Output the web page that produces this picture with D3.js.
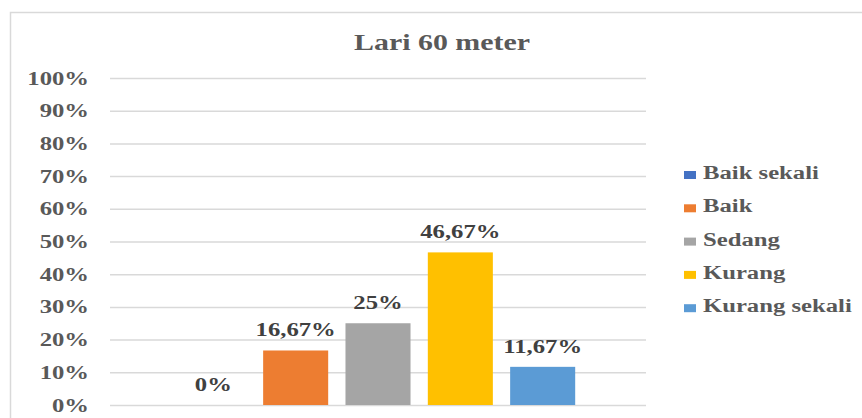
<!DOCTYPE html>
<html>
<head>
<meta charset="utf-8">
<script src="https://cdn.jsdelivr.net/npm/d3@7"></script>
<style>
  body { margin: 0; background: #fff; }
  text { font-family: 'Liberation Serif', 'Times New Roman', serif; font-weight: bold; }
</style>
</head>
<body>
<div id="chart"></div>
<script>
var chartTitle = 'Lari 60 meter'
var seriesNames = ['Baik sekali', 'Baik', 'Sedang', 'Kurang', 'Kurang sekali']
var seriesValues = [0, 16.67, 25, 46.67, 11.67]
var valueLabels = ['0%', '16,67%', '25%', '46,67%', '11,67%']
var seriesColors = ['#4472C4', '#ED7D31', '#A5A5A5', '#FFC000', '#5B9BD5']
var yTicks = [0, 10, 20, 30, 40, 50, 60, 70, 80, 90, 100]

var width = 862
var height = 418
var plotLeft = 110
var plotRight = 646
var plotTop = 78
var plotBottom = 405
var stretch = 1.3

var svg = d3.select('#chart').append('svg')
  .attr('width', width)
  .attr('height', height)

// chart frame
svg.append('rect')
  .attr('x', 10.5)
  .attr('y', 12.5)
  .attr('width', 900)
  .attr('height', 450)
  .attr('fill', 'none')
  .attr('stroke', '#d9d9d9')
  .attr('stroke-width', 1.5)

var x = d3.scaleBand()
  .domain(seriesNames)
  .range([plotLeft, plotRight])
  .paddingInner(0.21)
  .paddingOuter(0.86)

var y = d3.scaleLinear()
  .domain([0, 100])
  .range([plotBottom, plotTop])

// text is drawn horizontally stretched, like the source picture
function place (sel, px, py) {
  return sel.attr('transform', 'translate(' + px + ',' + py + ') scale(' + stretch + ',1)')
}

// gridlines
var yAxis = d3.axisLeft(y)
  .tickValues(yTicks)
  .tickSize(-(plotRight - plotLeft))
  .tickFormat('')

var gAxis = svg.append('g')
  .attr('transform', 'translate(' + plotLeft + ',0)')
  .call(yAxis)
gAxis.select('.domain').remove()
gAxis.selectAll('.tick line')
  .attr('stroke', '#d9d9d9')
  .attr('stroke-width', 1.5)

// tick labels
svg.append('g').selectAll('text')
  .data(yTicks)
  .enter().append('text')
  .attr('text-anchor', 'end')
  .attr('font-size', 19)
  .attr('fill', '#595959')
  .text(function (d) { return d + '%' })
  .each(function (d) { place(d3.select(this), 89, y(d) + 6.5) })

// bars
svg.append('g').selectAll('rect')
  .data(seriesValues)
  .enter().append('rect')
  .attr('x', function (d, i) { return x(seriesNames[i]) })
  .attr('y', function (d) { return y(d) })
  .attr('width', x.bandwidth())
  .attr('height', function (d) { return plotBottom - y(d) })
  .attr('fill', function (d, i) { return seriesColors[i] })

// value labels
svg.append('g').selectAll('text')
  .data(seriesValues)
  .enter().append('text')
  .attr('text-anchor', 'middle')
  .attr('font-size', 19)
  .attr('fill', '#404040')
  .text(function (d, i) { return valueLabels[i] })
  .each(function (d, i) {
    place(d3.select(this), x(seriesNames[i]) + x.bandwidth() / 2, y(d) - 14)
  })

// title
place(svg.append('text')
  .attr('text-anchor', 'middle')
  .attr('font-size', 23)
  .attr('fill', '#595959')
  .text(chartTitle), 442, 50)

// legend
var legend = svg.append('g').selectAll('g')
  .data(seriesNames)
  .enter().append('g')
  .attr('transform', function (d, i) { return 'translate(684,' + (179 + i * 33.3) + ')' })

legend.append('rect')
  .attr('x', 0)
  .attr('y', -8)
  .attr('width', 12)
  .attr('height', 8)
  .attr('fill', function (d, i) { return seriesColors[i] })

legend.append('text')
  .attr('font-size', 19)
  .attr('fill', '#595959')
  .text(function (d) { return d })
  .each(function () { place(d3.select(this), 19, 0) })
</script>
</body>
</html>
